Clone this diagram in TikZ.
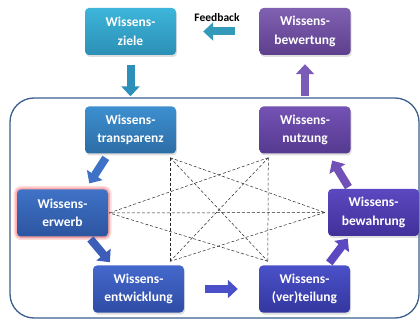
\documentclass[tikz,border=0pt]{standalone}
\usepackage{fontspec}
\setmainfont{Carlito}
\usetikzlibrary{calc,arrows.meta,positioning,shadows}
\definecolor{cZielT}{HTML}{3DB5DA}
\definecolor{cZielB}{HTML}{2C8FB5}
\definecolor{cTranT}{HTML}{3D8FD0}
\definecolor{cTranB}{HTML}{2C6DA5}
\definecolor{cErwT}{HTML}{3F72C6}
\definecolor{cErwB}{HTML}{2D55A0}
\definecolor{cEntT}{HTML}{4468CC}
\definecolor{cEntB}{HTML}{2F4CA5}
\definecolor{cVerT}{HTML}{4A50C8}
\definecolor{cVerB}{HTML}{34379F}
\definecolor{cBewaT}{HTML}{5C48C0}
\definecolor{cBewaB}{HTML}{41319A}
\definecolor{cNutT}{HTML}{7452B4}
\definecolor{cNutB}{HTML}{553A90}
\definecolor{cBeweT}{HTML}{8060B0}
\definecolor{cBeweB}{HTML}{5E3F8E}
\definecolor{cFrame}{HTML}{3A5F8F}
\definecolor{cGlow}{HTML}{FF7070}

\begin{document}
\begin{tikzpicture}[x=1pt,y=-1pt,
   box/.style={rounded corners=4pt,minimum width=91pt,minimum height=47pt,align=center,
     text=white,inner sep=2pt,font=\fontsize{13.5}{18.5}\selectfont\bfseries,
     drop shadow={shadow xshift=1pt,shadow yshift=-2pt,opacity=0.25}},
   flow/.style={line width=8pt,-{Triangle[width=18pt,length=10pt]}},
   dia/.style={dash pattern=on 3pt off 2pt,line width=0.5pt,black!85},
   frame/.style={draw=cFrame,line width=1.3pt,rounded corners=24pt}]
  \useasboundingbox (0,0) rectangle (420,320);
  \draw[frame] (10,98) rectangle (419,318);
  % boxes
  \node[box,top color=cZielT,bottom color=cZielB]   (ziel)  at (130.5,31.5)  {Wissens-\\ziele};
  \node[box,top color=cBeweT,bottom color=cBeweB]   (bewe)  at (305,31.5)    {Wissens-\\bewertung};
  \node[box,top color=cTranT,bottom color=cTranB]   (trans) at (130.5,130)   {Wissens-\\transparenz};
  \node[box,top color=cNutT,bottom color=cNutB]     (nutz)  at (305,130)     {Wissens-\\nutzung};
  \node[box,top color=cErwT,bottom color=cErwB,
        preaction={draw=cGlow,line width=7pt,opacity=.25},
        preaction={draw=cGlow,line width=3.5pt,opacity=.45}] (erw) at (62.5,213) {Wissens-\\erwerb};
  \node[box,top color=cBewaT,bottom color=cBewaB]   (bewa)  at (373.5,212.5) {Wissens-\\bewahrung};
  \node[box,top color=cEntT,bottom color=cEntB]     (entw)  at (138.5,289)   {Wissens-\\entwicklung};
  \node[box,top color=cVerT,bottom color=cVerB]     (vert)  at (304.5,289)   {Wissens-\\(ver)teilung};
  \node[font=\fontsize{11.5}{13}\selectfont\bfseries] (fb) at (217,18) {Feedback};
  % block arrows
  \draw[flow,cZielB!90!cTranT,shorten <=10pt,shorten >=10pt] (ziel) -- (trans);
  \draw[flow,cZielT!85!black,shorten <=24pt,shorten >=27pt] (bewe) -- (ziel);
  \draw[flow,cNutT!95!white,shorten <=10pt,shorten >=9pt] (nutz) -- (bewe);
  \draw[flow,cErwT,shorten <=5pt,shorten >=7pt] ([xshift=-22pt]trans.south) -- ([xshift=23pt]erw.north);
  \draw[flow,cEntT!90!black,shorten <=3pt,shorten >=4pt] ([xshift=26pt]erw.south) -- ([xshift=-26pt]entw.north);
  \draw[flow,cVerT,shorten <=21pt,shorten >=21pt] (entw) -- (vert);
  \draw[flow,cBewaT,shorten <=3pt,shorten >=3pt] ([xshift=23pt]vert.north) -- ([xshift=-24pt]bewa.south);
  \draw[flow,cNutT!90!cBewaT,shorten <=2pt,shorten >=8pt] ([xshift=-24pt]bewa.north) -- ([xshift=23pt]nutz.south);
  % dashed links
  \coordinate (pA) at ([shift={(-6,4)}]trans.south east);
  \coordinate (pB) at ([shift={(9,4)}]nutz.south west);
  \coordinate (pC) at ([shift={(-3,0)}]bewa.west);
  \coordinate (pD) at ([shift={(9,-4)}]vert.north west);
  \coordinate (pE) at ([shift={(-14,-4)}]entw.north east);
  \coordinate (pF) at ([shift={(1,0)}]erw.east);
  \foreach \a/\b in {pA/pC,pA/pD,pA/pE,pB/pD,pB/pE,pB/pF,pC/pE,pC/pF,pD/pF}
    \draw[dia] (\a) -- (\b);
\end{tikzpicture}
\end{document}
